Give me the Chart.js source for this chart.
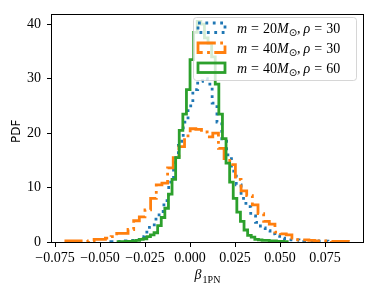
<!DOCTYPE html>
<html>
<head>
<meta charset="utf-8">
<script src="https://cdn.jsdelivr.net/npm/chart.js@4.4.1/dist/chart.umd.min.js"></script>
<style>
  html, body { margin: 0; padding: 0; background: #fff; }
</style>
</head>
<body>
<canvas id="histChart" width="374" height="293"></canvas>
<script>
// runs: mass and SNR
const masses = [20, 40, 40];
const rhos = [30, 30, 60];

// histogram bins: first edge, bin width, heights (PDF)
const blueStart = -0.044;
const blueWidth = 0.00268;
const blueHeights = [0.05, 0.05, 0.1, 0.2, 0.3, 0.5, 1.0, 1.8, 2.7, 4.2, 5.6, 7.6, 11, 15.5, 18.5, 22,
  25, 28, 29.5, 30, 29, 25.5, 22, 18.5, 16, 13, 10.5, 8, 6.5, 4.8, 3.6, 2.6, 2.1, 1.5, 1.1, 0.7,
  0.6, 0.4, 0.4, 0.3, 0.2, 0.2, 0.2, 0.15, 0.15, 0.1, 0.05, 0.05, 0.1, 0.05];

const orangeStart = -0.069;
const orangeWidth = 0.00314;
const orangeHeights = [0.2, 0.2, 0.2, 0.1, 0.2, 0.5, 0.5, 0.7, 1.0, 1.6, 1.6, 2.3, 3.9, 4.6, 5.9, 8,
  10.5, 10.8, 13.6, 15.5, 17.5, 19.5, 20.8, 20.7, 20.2, 19.3, 20, 17.2, 15.3, 14.2, 11.5, 9.4, 8.5,
  6.8, 5.2, 3.8, 3.3, 1.8, 1.5, 1.3, 0.7, 0.4, 0.4, 0.3, 0.2, 0.2, 0.2, 0.1, 0.1, 0.1];

const greenStart = -0.04;
const greenWidth = 0.002;
const greenHeights = [0.05, 0.05, 0.1, 0.1, 0.2, 0.3, 0.5, 0.6, 1.0, 1.3, 1.7, 3.0, 4.5, 6.2, 8.8,
  11.5, 15.5, 20.5, 23.5, 28, 33.5, 38.5, 40.5, 40, 37.5, 36.5, 34, 29, 23.5, 19, 14.5, 11, 8, 5.5,
  3.8, 2.2, 1.2, 0.9, 0.5, 0.4, 0.3, 0.3, 0.2, 0.2, 0.1, 0.1, 0.05];

const xTicks = [-0.075, -0.05, -0.025, 0, 0.025, 0.05, 0.075];
const yTicks = [0, 10, 20, 30, 40];
const xMin = -0.0767, xMax = 0.0961;
const yMin = 0, yMax = 41.8;

const colors = ["#1f77b4", "#ff7f0e", "#2ca02c"];
const serif = "'Liberation Serif', 'DejaVu Serif', serif";

// outline of a step histogram (open at the bottom)
function stepPoints(start, width, heights) {
  const pts = [{ x: start, y: 0 }];
  heights.forEach((h, i) => pts.push({ x: start + (i + 1) * width, y: h }));
  pts.push({ x: start + heights.length * width, y: 0 });
  return pts;
}

function drawLabel(ctx, x, y, mass, rho) {
  const it = "italic 14px " + serif;
  const rm = "14px " + serif;
  const sub = "10px 'DejaVu Sans', sans-serif";
  const segs = [
    [it, "m", 0, 0], [rm, "=", 4, 0], [rm, String(mass), 4, 0], [it, "M", 0, 0],
    [sub, "\u2299", 0, 3], [rm, ",", 0, 0], [it, "\u03c1", 3, 0], [rm, "=", 4, 0], [rm, String(rho), 4, 0]
  ];
  let cx = x;
  segs.forEach(([font, text, gap, dy]) => {
    cx += gap;
    ctx.font = font;
    ctx.fillText(text, cx, y + dy);
    cx += ctx.measureText(text).width;
  });
}

const frameAndLegend = {
  id: "frameAndLegend",
  afterDatasetsDraw(chart) {
    const ctx = chart.ctx;
    const a = chart.chartArea;
    ctx.save();
    // spines
    ctx.strokeStyle = "#000";
    ctx.lineWidth = 1;
    ctx.strokeRect(Math.round(a.left) - 0.5, Math.round(a.top) + 0.5,
      Math.round(a.right - a.left) + 1, Math.round(a.bottom - a.top));

    // legend box
    const bx = 193.5, by = 17.5, bw = 163, bh = 63;
    ctx.beginPath();
    ctx.roundRect(bx, by, bw, bh, 3);
    ctx.fillStyle = "rgba(255,255,255,0.8)";
    ctx.fill();
    ctx.strokeStyle = "rgba(204,204,204,0.8)";
    ctx.lineWidth = 1;
    ctx.stroke();

    chart.data.datasets.forEach((ds, i) => {
      const top = 23 + i * 20;
      ctx.setLineDash(ds.borderDash || []);
      ctx.strokeStyle = ds.borderColor;
      ctx.lineWidth = 2.8;
      ctx.strokeRect(198, top, 27, 9.5);
      ctx.setLineDash([]);
      ctx.fillStyle = "#000";
      ctx.textBaseline = "alphabetic";
      ctx.textAlign = "left";
      drawLabel(ctx, 237, top + 10, masses[i], rhos[i]);
    });

    // axis titles
    ctx.fillStyle = "#000";
    ctx.font = "12px 'DejaVu Sans', sans-serif";
    ctx.textAlign = "center";
    ctx.textBaseline = "middle";
    ctx.save();
    ctx.translate(17, (a.top + a.bottom) / 2 + 3);
    ctx.rotate(-Math.PI / 2);
    ctx.fillText("PDF", 0, 0);
    ctx.restore();

    ctx.textAlign = "left";
    ctx.textBaseline = "alphabetic";
    ctx.font = "italic 14px " + serif;
    const bw1 = ctx.measureText("\u03b2").width;
    ctx.font = "10px " + serif;
    const bw2 = ctx.measureText("1PN").width;
    const sx = (a.left + a.right) / 2 - (bw1 + bw2 + 1) / 2;
    ctx.font = "italic 14px " + serif;
    ctx.fillText("\u03b2", sx, 279);
    ctx.font = "10px " + serif;
    ctx.fillText("1PN", sx + bw1 + 1, 283);
    ctx.restore();
  }
};

new Chart("histChart", {
  type: "line",
  data: {
    datasets: [
      {
        label: "m = 20, rho = 30",
        data: stepPoints(blueStart, blueWidth, blueHeights),
        borderColor: colors[0],
        borderWidth: 2.8,
        borderDash: [2.8, 4.6],
        stepped: "after",
        pointRadius: 0,
        fill: false,
        order: 2,
      },
      {
        label: "m = 40, rho = 30",
        data: stepPoints(orangeStart, orangeWidth, orangeHeights),
        borderColor: colors[1],
        borderWidth: 2.8,
        borderDash: [17.8, 4.4, 2.8, 4.4],
        stepped: "after",
        pointRadius: 0,
        fill: false,
        order: 1,
      },
      {
        label: "m = 40, rho = 60",
        data: stepPoints(greenStart, greenWidth, greenHeights),
        borderColor: colors[2],
        borderWidth: 2.8,
        stepped: "after",
        pointRadius: 0,
        fill: false,
        order: 0,
      },
    ],
  },
  options: {
    responsive: false,
    animation: false,
    layout: { padding: { top: 10, right: 11, left: 0, bottom: 0 } },
    plugins: {
      legend: { display: false },
      tooltip: { enabled: false },
    },
    scales: {
      x: {
        type: "linear",
        min: xMin,
        max: xMax,
        afterBuildTicks: (s) => { s.ticks = xTicks.map((v) => ({ value: v })); },
        afterFit: (s) => { s.height = 51; },
        ticks: {
          font: { family: serif, size: 14 },
          color: "#000",
          padding: 3,
          maxRotation: 0,
          autoSkip: false,
          callback: (v) => v.toFixed(3).replace("-", "\u2212"),
        },
        grid: { drawOnChartArea: false, drawTicks: true, tickLength: 5, color: "#000" },
        border: { display: false },
      },
      y: {
        min: yMin,
        max: yMax,
        afterBuildTicks: (s) => { s.ticks = yTicks.map((v) => ({ value: v })); },
        afterFit: (s) => { s.width = 52; },
        ticks: {
          font: { family: serif, size: 14 },
          color: "#000",
          padding: 6,
          autoSkip: false,
        },
        grid: { drawOnChartArea: false, drawTicks: true, tickLength: 5, color: "#000" },
        border: { display: false },
      },
    },
  },
  plugins: [frameAndLegend],
});
</script>
</body>
</html>
